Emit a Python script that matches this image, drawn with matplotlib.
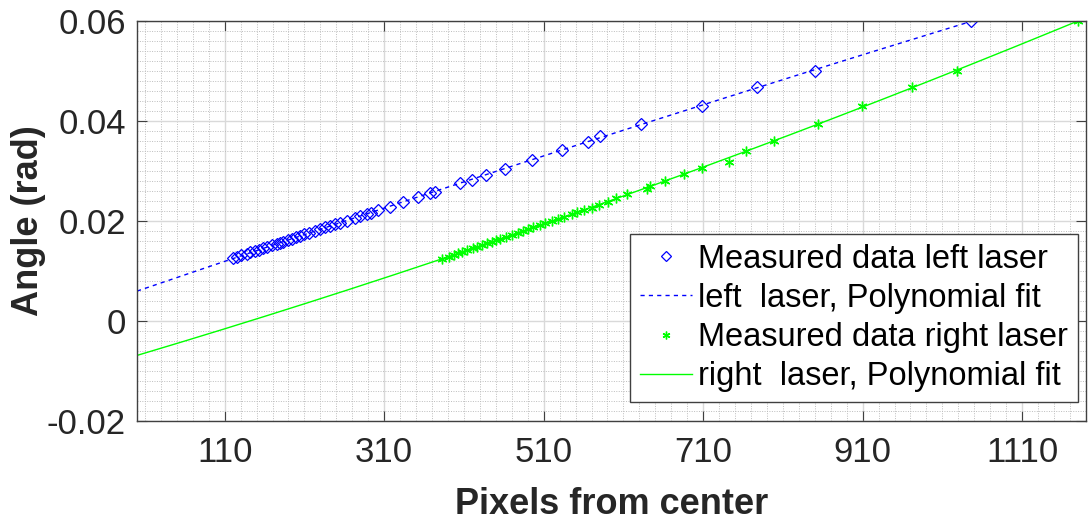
import numpy as np
import matplotlib
matplotlib.use("Agg")
import matplotlib.pyplot as plt
from matplotlib.ticker import FixedLocator, MultipleLocator, FuncFormatter

plt.rcParams["font.family"] = ["Liberation Sans", "DejaVu Sans"]

# Measured calibration points (pixels from center -> angle in rad)
left_px = [120, 125, 131, 138, 142, 148, 153, 158, 163, 169, 175, 179, 183,
           189, 194, 200, 204, 210, 216, 223, 230, 236, 242, 248, 254, 263,
           273, 280, 288, 294, 302, 317, 333, 352, 367, 374, 405, 420, 438,
           462, 495, 533, 566, 581, 632, 709, 778, 850, 1046]
left_angle = [0.0125, 0.0127, 0.0131, 0.0134, 0.0137, 0.0140, 0.0142, 0.0145,
              0.0148, 0.0151, 0.0154, 0.0156, 0.0158, 0.0162, 0.0164, 0.0168,
              0.0170, 0.0173, 0.0176, 0.0180, 0.0183, 0.0187, 0.0190, 0.0193,
              0.0196, 0.0201, 0.0206, 0.0210, 0.0214, 0.0217, 0.0222, 0.0229,
              0.0238, 0.0248, 0.0256, 0.0259, 0.0276, 0.0283, 0.0293, 0.0305,
              0.0322, 0.0342, 0.0358, 0.0370, 0.0395, 0.0430, 0.0468, 0.0500,
              0.0600]

right_px = [383, 391, 398, 403, 408, 414, 421, 427, 433, 439, 445, 450, 455,
            463, 470, 478, 484, 490, 497, 505, 512, 520, 528, 536, 545, 552,
            560, 570, 580, 591, 601, 615, 639, 643, 662, 686, 708, 743, 764,
            799, 854, 909, 972, 1028, 1180]
right_angle = [0.0124, 0.0128, 0.0132, 0.0135, 0.0138, 0.0141, 0.0145, 0.0148,
               0.0152, 0.0155, 0.0158, 0.0161, 0.0164, 0.0168, 0.0172, 0.0176,
               0.0180, 0.0183, 0.0187, 0.0191, 0.0195, 0.0200, 0.0204, 0.0209,
               0.0214, 0.0218, 0.0222, 0.0226, 0.0232, 0.0239, 0.0246, 0.0254,
               0.0264, 0.0271, 0.0281, 0.0294, 0.0306, 0.0318, 0.0341, 0.0361,
               0.0395, 0.0430, 0.0468, 0.0500, 0.0600]

x_ticks = [110, 310, 510, 710, 910, 1110]
y_ticks = [-0.02, 0, 0.02, 0.04, 0.06]
x_range = (0, 1190)
y_range = (-0.02, 0.06)

# second order polynomial fits, evaluated over the whole axis span
left_fit = np.polyfit(left_px, left_angle, 2)
right_fit = np.polyfit(right_px, right_angle, 2)
xs = np.linspace(x_range[0], x_range[1], 400)

fig = plt.figure(figsize=(10.88, 5.2), dpi=100)
ax = fig.add_axes([0.1259, 0.1904, 0.8722, 0.7692])

ax.plot(left_px, left_angle, linestyle="none", marker="D", markersize=6,
        markerfacecolor="none", markeredgecolor="blue", markeredgewidth=0.9,
        label="Measured data left laser")
ax.plot(xs, np.polyval(left_fit, xs), color="blue", linewidth=1,
        dashes=(3, 3), label="left  laser, Polynomial fit")
ax.plot(right_px, right_angle, linestyle="none", marker=(6, 2, 0),
        markersize=7, markeredgecolor="#00ff00", markeredgewidth=1,
        label="Measured data right laser")
ax.plot(xs, np.polyval(right_fit, xs), color="#00ff00", linewidth=1,
        label="right  laser, Polynomial fit")

ax.set_xlim(*x_range)
ax.set_ylim(*y_range)
ax.xaxis.set_major_locator(FixedLocator(x_ticks))
ax.yaxis.set_major_locator(FixedLocator(y_ticks))
ax.xaxis.set_minor_locator(FixedLocator(np.arange(10, 1190, 20)))
ax.yaxis.set_minor_locator(MultipleLocator(0.002))
ax.yaxis.set_major_formatter(FuncFormatter(lambda v, p: f"{v:g}"))

ax.grid(True, which="major", color="#d9d9d9", linewidth=1, linestyle="-")
ax.grid(True, which="minor", color="#bdbdbd", linewidth=0.7,
        linestyle=(0, (1, 1.5)))
ax.set_axisbelow(True)

for sp in ax.spines.values():
    sp.set_color("#404040")
    sp.set_linewidth(1)

ax.tick_params(which="major", direction="in", length=7, width=0.8,
               colors="#404040", labelcolor="#262626", labelsize=25,
               top=True, right=True)
ax.tick_params(which="minor", length=0, top=True, right=True)
ax.tick_params(axis="x", pad=11)
ax.tick_params(axis="y", pad=8)

ax.set_xlabel("Pixels from center", fontsize=26, fontweight="bold",
              color="#262626")
ax.set_ylabel("Angle (rad)", fontsize=26, fontweight="bold", color="#262626")
ax.xaxis.set_label_coords(0.5, -0.165)
ax.yaxis.set_label_coords(-0.096, 0.5)

leg = ax.legend(loc="lower right", bbox_to_anchor=(0.9916, 0.0475),
                borderaxespad=0, fontsize=23.5, fancybox=False, framealpha=1,
                edgecolor="#404040", handlelength=1.6, handletextpad=0.2,
                labelspacing=0.25, borderpad=0.3, markerscale=0.8)
leg.get_frame().set_linewidth(1)

fig.savefig("out.png", dpi=100)
